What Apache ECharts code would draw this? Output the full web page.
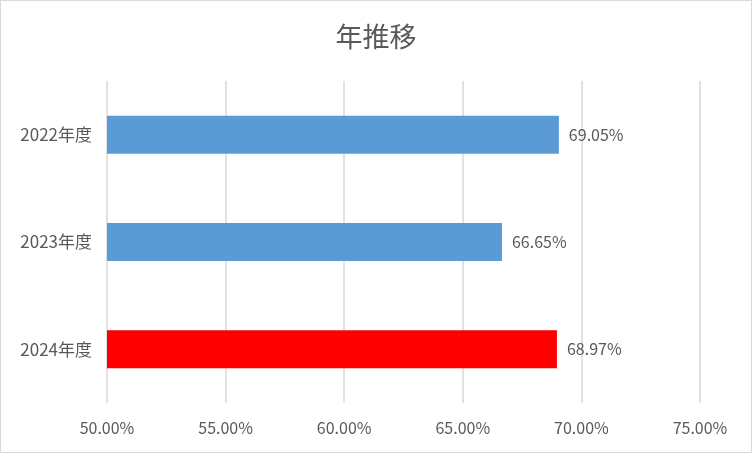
<!DOCTYPE html>
<html>
<head>
<meta charset="utf-8">
<script src="https://cdn.jsdelivr.net/npm/echarts@6/dist/echarts.min.js"></script>
<style>
  html, body { margin: 0; padding: 0; background: #fff; }
  #chart { width: 750px; height: 451px; border: 1px solid #d9d9d9; }
</style>
</head>
<body>
<div id="chart"></div>
<script>
const titleText = '年推移';
const categories = ['2022年度', '2023年度', '2024年度'];
const values = [69.05, 66.65, 68.97];
const barColors = ['#5b9bd5', '#5b9bd5', '#ff0000'];
const axisMin = 50;
const axisMax = 75;
const axisStep = 5;

const font = '"Noto Sans CJK JP", "Noto Sans", sans-serif';
const chart = echarts.init(document.getElementById('chart'));

const option = {
  backgroundColor: '#ffffff',
  animation: false,
  title: {
    text: titleText,
    left: 'center',
    top: 17,
    textStyle: { fontFamily: font, fontSize: 27, fontWeight: 'normal', color: '#595959' }
  },
  grid: { left: 106, right: 51, top: 80, bottom: 49 },
  xAxis: {
    type: 'value',
    min: axisMin,
    max: axisMax,
    interval: axisStep,
    axisLine: { show: false },
    axisTick: { show: false },
    splitLine: { lineStyle: { color: '#d9d9d9', width: 1.5 } },
    axisLabel: {
      margin: 17,
      color: '#595959',
      fontFamily: font,
      fontSize: 16,
      formatter: v => v.toFixed(2) + '%'
    }
  },
  yAxis: {
    type: 'category',
    inverse: true,
    data: categories,
    axisLine: { show: false },
    axisTick: { show: false },
    axisLabel: { margin: 15, color: '#595959', fontFamily: font, fontSize: 17 }
  },
  series: [{
    type: 'bar',
    barWidth: 38,
    data: values.map((v, i) => ({ value: v, itemStyle: { color: barColors[i] } })),
    label: {
      show: true,
      position: 'right',
      distance: 10,
      color: '#595959',
      fontFamily: font,
      fontSize: 16,
      formatter: p => p.value.toFixed(2) + '%'
    }
  }]
};

chart.setOption(option);
</script>
</body>
</html>
